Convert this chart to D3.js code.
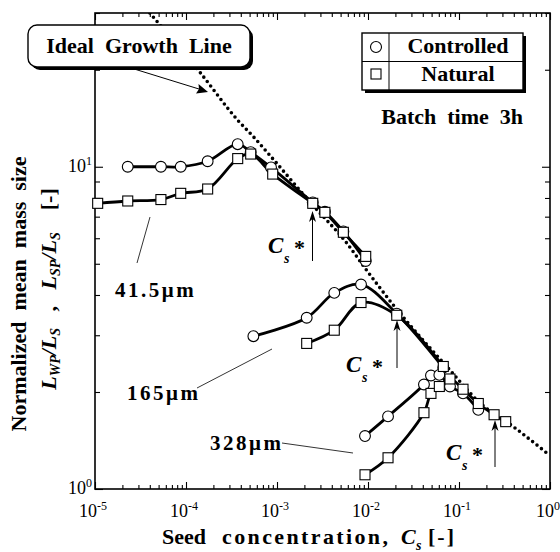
<!DOCTYPE html>
<html>
<head>
<meta charset="utf-8">
<script src="https://cdn.jsdelivr.net/npm/d3@7"></script>
<style>
  body { margin: 0; background: #fff; }
  svg text { white-space: pre; }
</style>
</head>
<body>
<div id="chart"></div>
<script>
// ---- data ----
var xTickLabels = ["-5", "-4", "-3", "-2", "-1", "0"];
var yTickLabels = ["0", "1"];

// ideal growth line (dotted)
var idealX = [4.0e-5, 1.43e-4, 3.7e-4, 5.7e-4, 8.0e-4, 2.47e-3, 5.83e-3, 9.27e-3, 1.9e-2, 7.62e-2, 0.170, 0.396, 1.0];
var idealY = [30, 19.6, 13.95, 12.26, 11.0, 7.6, 5.8, 4.85, 3.72, 2.37, 1.85, 1.56, 1.27];

// 41.5 um seeds
var c41X = [2.29e-5, 5.3e-5, 8.75e-5, 1.73e-4, 3.7e-4, 5.14e-4, 8.6e-4, 2.47e-3, 3.36e-3, 5.36e-3, 9.44e-3];
var c41Y = [10.0, 10.0, 10.0, 10.4, 11.75, 11.1, 9.95, 7.75, 7.25, 6.3, 5.1];
var n41X = [1.07e-5, 2.29e-5, 5.3e-5, 8.75e-5, 1.73e-4, 3.7e-4, 5.14e-4, 8.97e-4, 2.47e-3, 3.36e-3, 5.36e-3, 9.44e-3];
var n41Y = [7.70, 7.83, 7.91, 8.27, 8.53, 10.6, 10.95, 9.49, 7.70, 7.22, 6.26, 5.27];

// 165 um seeds
var c165X = [5.5e-4, 2.12e-3, 4.26e-3, 8.38e-3, 2.07e-2, 6.72e-2];
var c165Y = [2.98, 3.40, 4.06, 4.31, 3.50, 2.38];
var n165X = [2.12e-3, 4.26e-3, 8.38e-3, 2.07e-2, 6.72e-2];
var n165Y = [2.83, 3.11, 3.79, 3.46, 2.40];

// 328 um seeds
var c328X = [9.27e-3, 1.66e-2, 4.12e-2, 4.92e-2, 6.08e-2, 7.96e-2, 0.1107, 0.163];
var c328Y = [1.46, 1.68, 2.11, 2.25, 2.26, 2.08, 1.98, 1.76];
var n328X = [9.27e-3, 1.66e-2, 4.12e-2, 4.92e-2, 6.08e-2, 7.96e-2, 0.1107, 0.163, 0.243, 0.326];
var n328Y = [1.107, 1.25, 1.725, 1.98, 2.08, 2.195, 2.04, 1.842, 1.70, 1.618];

function zip(xs, ys) { return xs.map(function(v, i) { return [v, ys[i]]; }); }

var W = 560, H = 552;
var mLeft = 95, mRight = 550, mTop = 13, mBottom = 489;

var svg = d3.select("#chart").append("svg")
  .attr("width", W).attr("height", H)
  .attr("font-family", "'Liberation Serif', 'Times New Roman', Times, serif");

var x = d3.scaleLog().domain([1e-5, 1]).range([mLeft, mRight]);
var y = d3.scaleLog().domain([1, 30]).range([mBottom, mTop]);

svg.append("clipPath").attr("id", "plot")
  .append("rect").attr("x", mLeft).attr("y", mTop)
  .attr("width", mRight - mLeft).attr("height", mBottom - mTop);

// ---- axes (ticks inward, labels by hand) ----
var xMajor = x.ticks().filter(function(d) { return Math.abs(Math.log10(d) - Math.round(Math.log10(d))) < 1e-6; });
var xMinor = x.ticks().filter(function(d) { return xMajor.indexOf(d) < 0; });
var yMajor = [1, 10];
var yMinor = y.ticks().filter(function(d) { return d !== 1 && d !== 10; });

function axisGroup(axis, tx, ty) {
  var g = svg.append("g").attr("transform", "translate(" + tx + "," + ty + ")").call(axis);
  g.select(".domain").remove();
  g.selectAll("line").attr("stroke", "#000").attr("stroke-width", 1.1);
  return g;
}
axisGroup(d3.axisBottom(x).tickValues(xMajor).tickSize(-7).tickFormat(""), 0, mBottom);
axisGroup(d3.axisBottom(x).tickValues(xMinor).tickSize(-4).tickFormat(""), 0, mBottom);
axisGroup(d3.axisTop(x).tickValues(xMajor).tickSize(-7).tickFormat(""), 0, mTop);
axisGroup(d3.axisTop(x).tickValues(xMinor).tickSize(-4).tickFormat(""), 0, mTop);
axisGroup(d3.axisLeft(y).tickValues(yMajor).tickSize(-8).tickFormat(""), mLeft, 0);
axisGroup(d3.axisLeft(y).tickValues(yMinor).tickSize(-5).tickFormat(""), mLeft, 0);
axisGroup(d3.axisRight(y).tickValues(yMajor).tickSize(-8).tickFormat(""), mRight, 0);
axisGroup(d3.axisRight(y).tickValues(yMinor).tickSize(-5).tickFormat(""), mRight, 0);

svg.append("rect")
  .attr("x", mLeft).attr("y", mTop)
  .attr("width", mRight - mLeft).attr("height", mBottom - mTop)
  .attr("fill", "none").attr("stroke", "#000").attr("stroke-width", 1.6);

// tick labels
xMajor.forEach(function(d, i) {
  var t = svg.append("text")
    .attr("x", x(d) - 2).attr("y", mBottom + 28)
    .attr("text-anchor", "middle").attr("font-size", 18);
  t.append("tspan").text("10");
  t.append("tspan").attr("font-size", 12).attr("dy", -7).text(xTickLabels[i]);
});
yMajor.forEach(function(d, i) {
  var t = svg.append("text")
    .attr("x", mLeft - 3).attr("y", y(d) + 5)
    .attr("text-anchor", "end").attr("font-size", 18);
  t.append("tspan").text("10");
  t.append("tspan").attr("font-size", 12).attr("dy", -7).text(yTickLabels[i]);
});

// axis titles
var xt = svg.append("g").attr("font-size", 22).attr("font-weight", "bold");
xt.append("text").attr("x", 162).attr("y", 544).text("Seed");
xt.append("text").attr("x", 222).attr("y", 544)
  .attr("textLength", 166).attr("lengthAdjust", "spacing").text("concentration,");
xt.append("text").attr("x", 401).attr("y", 544).attr("font-style", "italic").text("C");
xt.append("text").attr("x", 416).attr("y", 550).attr("font-size", 14).attr("font-style", "italic").text("s");
xt.append("text").attr("x", 428).attr("y", 544).attr("letter-spacing", 2).text("[-]");

var yt = svg.append("g").attr("font-size", 22).attr("font-weight", "bold");
yt.append("text")
  .attr("transform", "translate(26,294) rotate(-90)")
  .attr("text-anchor", "middle")
  .text("Normalized  mean  mass  size");
var yt2 = yt.append("text")
  .attr("transform", "translate(56,289) rotate(-90)")
  .attr("text-anchor", "middle");
function part(txt, sub, italic) {
  var s = yt2.append("tspan").text(txt);
  if (italic) s.attr("font-style", "italic");
  if (sub) s.attr("font-size", 14).attr("baseline-shift", "-30%");
}
part("L", false, true); part("WP", true, true); part("/L", false, true); part("S", true, true);
part("   ,   ", false, false);
part("L", false, true); part("SP", true, true); part("/L", false, true); part("S", true, true);
part("    [-]", false, false);

// ---- ideal growth line ----
var smooth = d3.line()
  .x(function(d) { return x(d[0]); })
  .y(function(d) { return y(d[1]); })
  .curve(d3.curveCatmullRom.alpha(0.5));

svg.append("path")
  .attr("clip-path", "url(#plot)")
  .attr("d", d3.line()
    .x(function(d) { return x(d[0]); })
    .y(function(d) { return y(d[1]); })
    .curve(d3.curveMonotoneX)(zip(idealX, idealY)))
  .attr("fill", "none").attr("stroke", "#000")
  .attr("stroke-width", 3.6).attr("stroke-linecap", "round")
  .attr("stroke-dasharray", "0,5.6");

// ---- data lines ----
var series = [
  zip(c41X, c41Y), zip(n41X, n41Y),
  zip(c165X, c165Y), zip(n165X, n165Y),
  zip(c328X, c328Y), zip(n328X, n328Y)
];
svg.append("g").selectAll("path").data(series).enter().append("path")
  .attr("d", smooth)
  .attr("fill", "none").attr("stroke", "#000")
  .attr("stroke-width", 2.8).attr("stroke-linejoin", "round");

// markers: circles = controlled, squares = natural
var circles = zip(c41X, c41Y).concat(zip(c165X, c165Y), zip(c328X, c328Y));
var squares = zip(n41X, n41Y).concat(zip(n165X, n165Y), zip(n328X, n328Y));

svg.append("g").selectAll("circle").data(circles).enter().append("circle")
  .attr("cx", function(d) { return x(d[0]); })
  .attr("cy", function(d) { return y(d[1]); })
  .attr("r", 5.4)
  .attr("fill", "#fff").attr("stroke", "#000").attr("stroke-width", 1.1);

svg.append("g").selectAll("rect").data(squares).enter().append("rect")
  .attr("x", function(d) { return x(d[0]) - 5; })
  .attr("y", function(d) { return y(d[1]) - 5; })
  .attr("width", 10).attr("height", 10)
  .attr("fill", "#fff").attr("stroke", "#000").attr("stroke-width", 1.1);

// ---- annotations ----
var ann = svg.append("g").attr("font-weight", "bold");

function label(txt, tx, ty, x1, y1, x2, y2) {
  ann.append("text").attr("x", tx).attr("y", ty).attr("font-size", 21)
    .attr("letter-spacing", 2.5).text(txt);
  ann.append("line").attr("x1", x1).attr("y1", y1).attr("x2", x2).attr("y2", y2)
    .attr("stroke", "#000").attr("stroke-width", 0.8);
}
label("41.5\u03bcm", 115, 297, 137, 263, 150, 217);
label("165\u03bcm", 127, 400, 197, 388, 272, 349);
label("328\u03bcm", 210, 450, 282, 443, 353, 453);

function arrowUp(ax, y1, y2) {
  ann.append("line").attr("x1", ax).attr("y1", y1).attr("x2", ax).attr("y2", y2 + 8)
    .attr("stroke", "#000").attr("stroke-width", 1);
  ann.append("path")
    .attr("d", "M" + ax + "," + y2 + "L" + (ax - 3.5) + "," + (y2 + 11) + "L" + ax + "," + (y2 + 8) + "L" + (ax + 3.5) + "," + (y2 + 11) + "Z")
    .attr("fill", "#000");
}
function csStar(cx, cy) {
  ann.append("text").attr("x", cx).attr("y", cy).attr("font-size", 23).attr("font-style", "italic").text("C");
  ann.append("text").attr("x", cx + 16).attr("y", cy + 10).attr("font-size", 14).attr("font-style", "italic").text("s");
  ann.append("text").attr("x", cx + 26).attr("y", cy + 2).attr("font-size", 22).text("*");
}
csStar(268, 253);
arrowUp(312.5, 261, 211);
csStar(346, 372);
arrowUp(397, 368, 320);
csStar(446, 460);
arrowUp(495, 467, 420);

// Ideal Growth Line box with arrow
svg.append("line").attr("x1", 131).attr("y1", 68).attr("x2", 199).attr("y2", 89)
  .attr("stroke", "#000").attr("stroke-width", 1);
svg.append("path").attr("d", "M208,92 L196,93.5 L199,89 L198.5,84 Z").attr("fill", "#000");

svg.append("rect").attr("x", 31).attr("y", 28).attr("width", 222).attr("height", 42)
  .attr("rx", 9).attr("fill", "#000");
svg.append("rect").attr("x", 28).attr("y", 25).attr("width", 222).attr("height", 42)
  .attr("rx", 9).attr("fill", "#fff").attr("stroke", "#000").attr("stroke-width", 1.4);
svg.append("text").attr("x", 139).attr("y", 53).attr("text-anchor", "middle")
  .attr("font-size", 22).attr("font-weight", "bold").text("Ideal  Growth  Line");

// legend
var lg = svg.append("g");
lg.append("rect").attr("x", 365).attr("y", 36).attr("width", 161).attr("height", 57).attr("fill", "#000");
lg.append("rect").attr("x", 362).attr("y", 33).attr("width", 161).attr("height", 57)
  .attr("fill", "#fff").attr("stroke", "#000").attr("stroke-width", 1.4);
lg.append("line").attr("x1", 389).attr("x2", 389).attr("y1", 33).attr("y2", 90).attr("stroke", "#000").attr("stroke-width", 1);
lg.append("line").attr("x1", 362).attr("x2", 523).attr("y1", 61.5).attr("y2", 61.5).attr("stroke", "#000").attr("stroke-width", 1);
lg.append("circle").attr("cx", 376).attr("cy", 47).attr("r", 5.5).attr("fill", "#fff").attr("stroke", "#000").attr("stroke-width", 1.1);
lg.append("rect").attr("x", 371).attr("y", 69).attr("width", 10).attr("height", 10).attr("fill", "#fff").attr("stroke", "#000").attr("stroke-width", 1.1);
lg.append("text").attr("x", 458).attr("y", 53).attr("text-anchor", "middle")
  .attr("font-size", 22).attr("font-weight", "bold").text("Controlled");
lg.append("text").attr("x", 458).attr("y", 81).attr("text-anchor", "middle")
  .attr("font-size", 22).attr("font-weight", "bold").text("Natural");

svg.append("text").attr("x", 523).attr("y", 124).attr("text-anchor", "end")
  .attr("font-size", 22).attr("font-weight", "bold").text("Batch  time  3h");
</script>
</body>
</html>
